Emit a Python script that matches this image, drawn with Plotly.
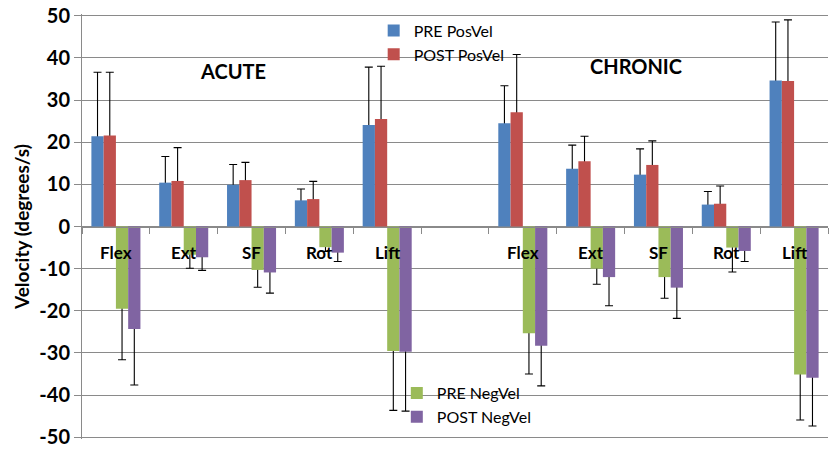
import plotly.graph_objects as go

categories = ["Flex", "Ext", "SF", "Rot", "Lift", "", "Flex", "Ext", "SF", "Rot", "Lift"]
x_idx = list(range(len(categories)))

pre_pos = [21.4, 10.4, 9.9, 6.2, 24.1, None, 24.5, 13.7, 12.3, 5.2, 34.6]
pre_pos_err = [15.2, 6.2, 4.8, 2.7, 13.7, None, 8.9, 5.6, 6.1, 3.1, 13.9]
post_pos = [21.6, 10.8, 11.0, 6.5, 25.5, None, 27.1, 15.5, 14.6, 5.4, 34.5]
post_pos_err = [15.0, 7.9, 4.2, 4.2, 12.5, None, 13.7, 5.9, 5.7, 4.2, 14.5]
pre_neg = [-19.5, -6.7, -10.3, -4.9, -29.5, None, -25.3, -10.0, -12.0, -5.0, -35.1]
pre_neg_err = [12.1, 3.2, 4.1, 1.0, 14.1, None, 9.7, 3.7, 5.0, 5.8, 10.8]
post_neg = [-24.3, -7.3, -10.9, -6.2, -29.7, None, -28.3, -12.0, -14.5, -5.8, -35.9]
post_neg_err = [13.3, 3.1, 4.9, 2.1, 14.1, None, 9.5, 6.8, 7.3, 2.5, 11.4]

y_ticks = [50, 40, 30, 20, 10, 0, -10, -20, -30, -40, -50]
y_tick_text = ["50", "40", "30", "20", "10", "0", "-10", "-20", "-30", "-40", "-50"]

series = [
    ("PRE PosVel", pre_pos, pre_pos_err, "#4F81BD", "legend", True),
    ("POST PosVel", post_pos, post_pos_err, "#C0504D", "legend", True),
    ("PRE NegVel", pre_neg, pre_neg_err, "#9BBB59", "legend2", False),
    ("POST NegVel", post_neg, post_neg_err, "#8064A2", "legend2", False),
]

FONT = "Lato"
GRID = "#8A8A8A"

fig = go.Figure()

# error-bar carriers (transparent, drawn first so the visible bars hide the inner cap)
for i, (name, vals, errs, color, leg, up) in enumerate(series):
    inner = [0.6 if v is not None else None for v in vals]
    fig.add_trace(go.Bar(
        x=x_idx, y=vals, offsetgroup=str(i), showlegend=False, hoverinfo="skip",
        marker=dict(color="rgba(0,0,0,0)", line=dict(width=0)),
        error_y=dict(type="data", symmetric=False,
                     array=errs if up else inner,
                     arrayminus=inner if up else errs,
                     color="black", thickness=1.1, width=4),
        legend=leg,
    ))

for i, (name, vals, errs, color, leg, up) in enumerate(series):
    fig.add_trace(go.Bar(
        x=x_idx, y=vals, name=name, offsetgroup=str(i),
        marker=dict(color=color, line=dict(width=0)),
        legend=leg,
    ))

annotations = []
for i, c in enumerate(categories):
    if c:
        annotations.append(dict(x=i, y=0, xref="x", yref="y", text=c, showarrow=False,
                                xanchor="center", yanchor="top", yshift=-13,
                                font=dict(family=FONT, size=17, color="black", weight="bold")))
annotations.append(dict(x=0.2018, y=0.865, xref="paper", yref="paper", text="ACUTE",
                        xanchor="center", yanchor="middle", showarrow=False,
                        font=dict(family=FONT, size=20, color="black", weight="bold")))
annotations.append(dict(x=0.7426, y=0.877, xref="paper", yref="paper", text="CHRONIC",
                        xanchor="center", yanchor="middle", showarrow=False,
                        font=dict(family=FONT, size=20, color="black", weight="bold")))

fig.update_layout(
    width=831, height=451,
    margin=dict(l=82, r=3, t=7.3, b=8.3),
    paper_bgcolor="white", plot_bgcolor="white",
    barmode="group", bargap=0.277, bargroupgap=0,
    annotations=annotations,
    legend=dict(x=0.391, y=1.001, xanchor="left", yanchor="top",
                bgcolor="rgba(0,0,0,0)", font=dict(family=FONT, size=16, color="black"),
                tracegroupgap=0, itemwidth=30),
    legend2=dict(x=0.422, y=0.148, xanchor="left", yanchor="top",
                 bgcolor="rgba(0,0,0,0)", font=dict(family=FONT, size=16, color="black"),
                 tracegroupgap=0, itemwidth=30),
    xaxis=dict(range=[-0.5, 10.5], anchor="free", position=0.5,
               showline=True, linecolor=GRID, linewidth=1, showgrid=False, zeroline=False,
               tickmode="array", tickvals=[i - 0.5 for i in range(len(categories) + 1)],
               ticks="outside", ticklen=6, tickcolor=GRID, showticklabels=False),
    yaxis=dict(range=[-50.4, 50.4], tickmode="array", tickvals=y_ticks, ticktext=y_tick_text,
               ticklabeloverflow="allow",
               showline=True, linecolor=GRID, linewidth=1,
               showgrid=True, gridcolor=GRID, gridwidth=1, zeroline=False,
               ticks="outside", ticklen=7, tickcolor=GRID,
               tickfont=dict(family=FONT, size=20, color="black", weight="bold"),
               title=dict(text="Velocity (degrees/s)", standoff=4,
                          font=dict(family=FONT, size=19, color="black", weight="bold"))),
)

fig.write_html("out.html", config={"displayModeBar": False},
               post_script="document.body.style.margin='0';")
